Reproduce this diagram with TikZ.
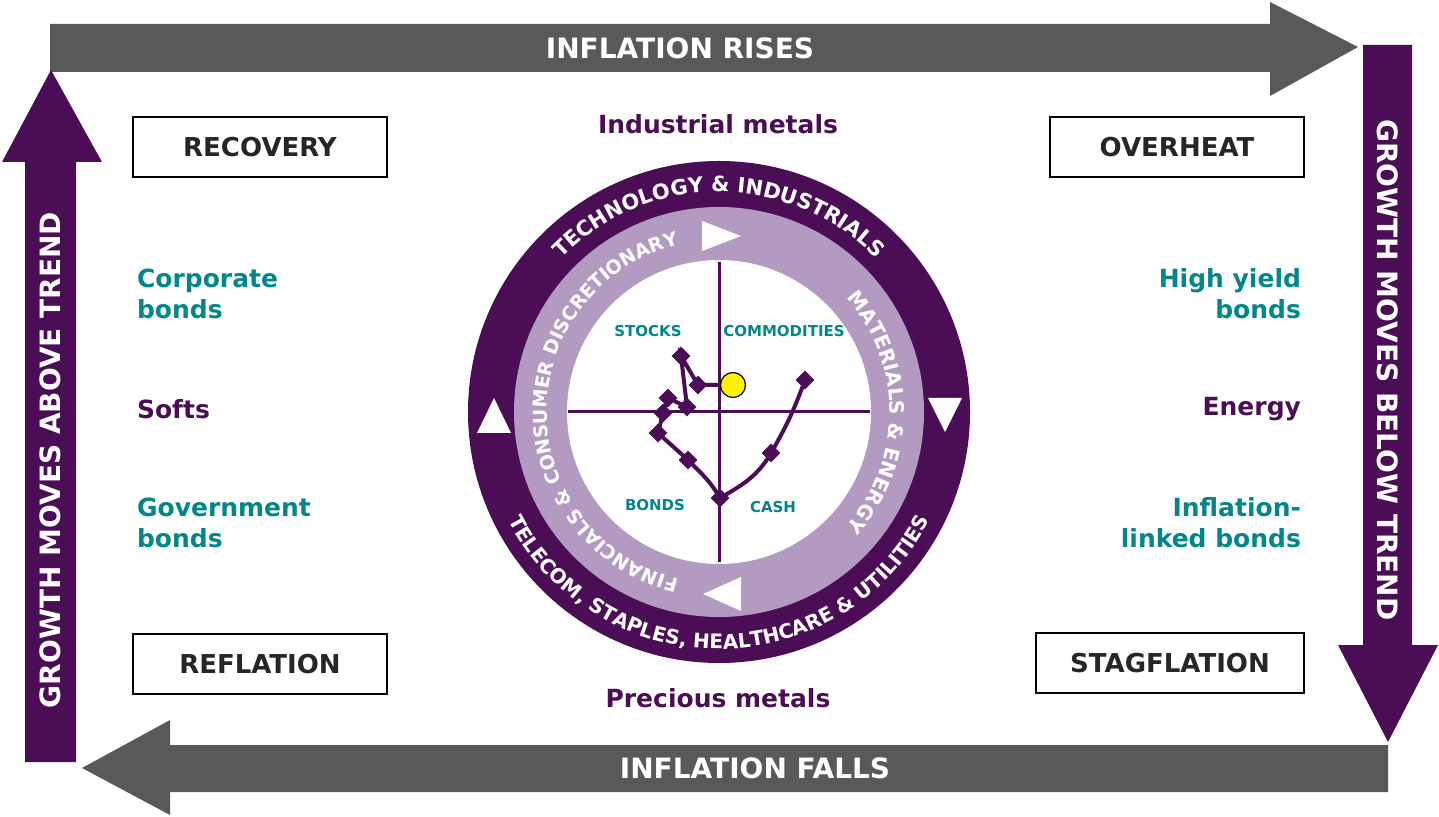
\documentclass[tikz,border=0pt]{standalone}
\usepackage{fontspec}
\setmainfont{DejaVu Sans}
\usetikzlibrary{decorations.text,shapes.geometric}
\definecolor{pur}{HTML}{4A0D56}
\definecolor{teal2}{HTML}{00868B}
\definecolor{lring}{HTML}{B39AC0}
\definecolor{gr}{HTML}{595959}
\tikzset{
 phase/.style={draw=black,line width=1.4pt,fill=white,minimum width=127pt,minimum height=30pt,font=\bfseries\fontsize{13}{15}\selectfont,text=black!85},
 arrlab/.style={text=white,font=\bfseries\fontsize{14}{16}\selectfont},
 asset/.style={font=\bfseries\fontsize{12.5}{15.5}\selectfont,text=teal2},
 passet/.style={font=\bfseries\fontsize{12.5}{15.5}\selectfont,text=pur},
 quad/.style={font=\bfseries\fontsize{7.5}{9}\selectfont,text=teal2},
 pt/.style={diamond,fill=pur,inner sep=0pt,minimum size=9.5pt},
 ringtxt/.style={decorate,decoration={text along path,text align=center,text color=white,
   text format delimiters={|}{|}}},
}
\begin{document}
\begin{tikzpicture}[x=0.5pt,y=0.5pt]
\useasboundingbox (0,0) rectangle (1439,-817);
% arrows
\fill[gr] (50,-24) -- (1270,-24) -- (1270,-2) -- (1358,-47) -- (1270,-96) -- (1270,-72) -- (50,-72) -- cycle;
\fill[pur] (1363,-45) -- (1412,-45) -- (1412,-645) -- (1438,-645) -- (1388,-742) -- (1338,-645) -- (1363,-645) -- cycle;
\fill[gr] (1388,-745) -- (1388,-792) -- (170,-792) -- (170,-815) -- (82,-768) -- (170,-720) -- (170,-745) -- cycle;
\fill[pur] (25,-762) -- (76,-762) -- (76,-162) -- (102,-162) -- (51,-70) -- (2,-162) -- (25,-162) -- cycle;
\node[arrlab] (ir) at (680,-48) {INFLATION RISES};
\node[arrlab] (if) at (755,-768) {INFLATION FALLS};
\node[arrlab,rotate=-90] (gb) at (1388,-370) {GROWTH MOVES BELOW TREND};
\node[arrlab,rotate=90] (ga) at (50,-460) {GROWTH MOVES ABOVE TREND};
% phase boxes
\node[phase] (rec) at (260,-147) {RECOVERY};
\node[phase] (ovh) at (1177,-147) {OVERHEAT};
\node[phase] (ref) at (260,-664) {REFLATION};
\node[phase,minimum width=134pt] (stg) at (1170,-663) {STAGFLATION};
% assets
\node[passet] (im) at (718,-124) {Industrial metals};
\node[passet] (pm) at (718,-698) {Precious metals};
\node[asset,anchor=west,align=left] (cb) at (130,-294) {Corporate\\bonds};
\node[passet,anchor=west] (so) at (130,-409) {Softs};
\node[asset,anchor=west,align=left] (gv) at (130,-523) {Government\\bonds};
\node[asset,anchor=east,align=right] (hy) at (1308,-294) {High yield\\bonds};
\node[passet,anchor=east] (en) at (1308,-409) {Energy};
\node[asset,anchor=east,align=right] (il) at (1308,-523) {Inflation-\\linked bonds};
% wheel
\coordinate (c) at (719,-412);
\fill[pur] (c) circle[radius=251];
\fill[lring] (c) circle[radius=205];
\fill[white] (c) circle[radius=152];
\draw[pur,line width=1.5pt] (568,-412) -- (870,-412) (719,-262) -- (719,-562);
\path[ringtxt,decoration={text={|\bfseries\fontsize{10.5}{12}\selectfont|TECHNOLOGY {\&} INDUSTRIALS}}] (c) ++(155:220) arc[start angle=155,end angle=25,radius=220];
\path[ringtxt,decoration={text={|\bfseries\fontsize{10}{12}\selectfont|TELECOM, STAPLES, HEALTHCARE {\&} UTILITIES}}] (c) ++(-165:237) arc[start angle=-165,end angle=-15,radius=237];
\path[ringtxt,decoration={text={|\bfseries\fontsize{10}{12}\selectfont|MATERIALS {\&} ENERGY}}] (c) ++(48:171) arc[start angle=48,end angle=-48,radius=171];
\path[ringtxt,decoration={text={|\bfseries\fontsize{9.5}{11}\selectfont|FINANCIALS {\&} CONSUMER DISCRETIONARY}}] (c) ++(268:172) arc[start angle=268,end angle=92,radius=172];
\fill[white] (702,-221) -- (702,-251) -- (741,-236) -- cycle;
\fill[white] (928,-398) -- (962,-398) -- (945,-432) -- cycle;
\fill[white] (741,-577) -- (741,-611) -- (703,-594) -- cycle;
\fill[white] (477,-433) -- (511,-433) -- (494,-398) -- cycle;
\node[quad] (qs) at (648,-331) {STOCKS};
\node[quad] (qc) at (784,-331) {COMMODITIES};
\node[quad] (qb) at (655,-505) {BONDS};
\node[quad] (qh) at (773,-507) {CASH};
% path
\node[pt] (p1) at (805,-380) {};
\node[pt] (p2) at (771,-453) {};
\node[pt] (p3) at (720,-498) {};
\node[pt] (p4) at (688,-460) {};
\node[pt] (p5) at (658,-433) {};
\node[pt] (p6) at (663,-413) {};
\node[pt] (p7) at (668,-398) {};
\node[pt] (p8) at (687,-407) {};
\node[pt] (p9) at (681,-356) {};
\node[pt] (p10) at (698,-385) {};
\node[circle,fill=yellow,draw=black,line width=0.6pt,minimum size=12.5pt,inner sep=0pt] (now) at (733,-385) {};
\draw[pur,line width=2pt] (p1.center) to[out=250,in=60] (p2.center) to[out=240,in=30] (p3.center) to[out=120,in=-45] (p4.center) -- (p5.center) -- (p6.center) -- (p7.center) -- (p8.center) -- (p9.center) -- (p10.center) -- (now);
\end{tikzpicture}
\end{document}
